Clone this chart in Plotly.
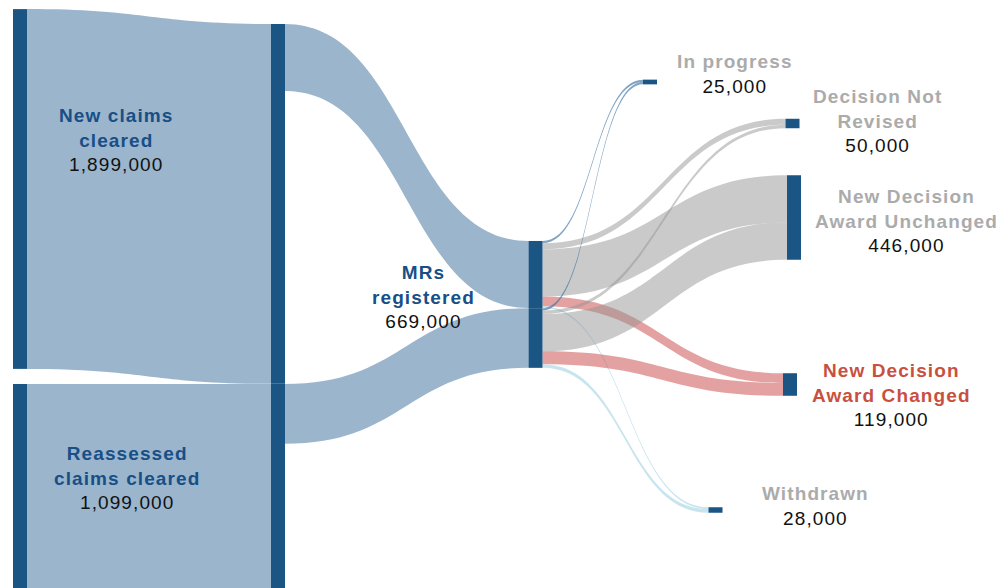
import plotly.graph_objects as go

# ---------------- data ----------------
node_names = [
    "New claims cleared", "Reassessed claims cleared",
    "New claims (MR source)", "Reassessed claims (MR source)",
    "MRs registered (new)", "MRs registered (reassessed)",
    "In progress", "Decision Not Revised", "New Decision Award Unchanged",
    "New Decision Award Changed", "Withdrawn",
]
cleared_new = 1899000
cleared_reassessed = 1099000
mr_new = 354000
mr_reassessed = 315000
outcome_names = ["In progress", "Decision Not Revised", "New Decision Award Unchanged",
                 "New Decision Award Changed", "Withdrawn"]
outcome_from_new = [12000, 32000, 249000, 51000, 10000]
outcome_from_reassessed = [13000, 18000, 197000, 68000, 19000]

label_totals = {
    "New claims cleared": "1,899,000",
    "Reassessed claims cleared": "1,099,000",
    "MRs registered": "669,000",
    "In progress": "25,000",
    "Decision Not Revised": "50,000",
    "New Decision Award Unchanged": "446,000",
    "New Decision Award Changed": "119,000",
    "Withdrawn": "28,000",
}

# ---------------- styles / layout ----------------
W, H = 1001, 588
MT = 8
PH = H - MT

NODE_COLOR = "#1b5583"
BLUE_LINK = "rgba(55,108,155,0.50)"
OUT_COLORS = ["rgba(60,115,165,0.65)", "rgba(150,150,150,0.50)", "rgba(150,150,150,0.50)",
              "rgba(202,68,68,0.50)", "rgba(163,210,227,0.60)"]

# node centres in pixels (page coordinates)
node_px_x = [20, 20, 278, 278, 535.5, 535.5, 650, 792.5, 794, 790, 715.5]
node_px_y = [189, 488.1, 203.9, 488.1, 274.5, 338.0, 82, 123.5, 217.5, 384.5, 510]

node_x = [px / W for px in node_px_x]
node_y = [(py - MT) / PH for py in node_px_y]

src, tgt, val, col = [], [], [], []
# cleared -> MR source columns
src += [0, 1]; tgt += [2, 3]; val += [cleared_new, cleared_reassessed]; col += [BLUE_LINK, BLUE_LINK]
# MR source -> MRs registered
src += [2, 3]; tgt += [4, 5]; val += [mr_new, mr_reassessed]; col += [BLUE_LINK, BLUE_LINK]
# MRs -> outcomes
for i, v in enumerate(outcome_from_new):
    src.append(4); tgt.append(6 + i); val.append(v); col.append(OUT_COLORS[i])
for i, v in enumerate(outcome_from_reassessed):
    src.append(5); tgt.append(6 + i); val.append(v); col.append(OUT_COLORS[i])

fig = go.Figure(go.Sankey(
    arrangement="fixed",
    hoverinfo="none",
    node=dict(
        label=[""] * len(node_names),
        x=node_x, y=node_y,
        pad=12, thickness=14,
        color=NODE_COLOR,
        line=dict(width=0),
        hoverinfo="none",
    ),
    link=dict(source=src, target=tgt, value=val, color=col, hoverinfo="none",
              line=dict(width=0)),
    textfont=dict(size=1, color="rgba(0,0,0,0)"),
))

DARK_BLUE = "#174f86"
GREY = "#ababab"
RED = "#c9503f"
LS = "letter-spacing:1.1px"

labels = [
    (["New claims", "cleared"], "New claims cleared", DARK_BLUE, 116, 140),
    (["Reassessed", "claims cleared"], "Reassessed claims cleared", DARK_BLUE, 127, 478),
    (["MRs", "registered"], "MRs registered", DARK_BLUE, 423, 297),
    (["In progress"], "In progress", GREY, 735, 74.5),
    (["Decision Not", "Revised"], "Decision Not Revised", GREY, 877, 121),
    (["New Decision", "Award Unchanged"], "New Decision Award Unchanged", GREY, 906, 220.5),
    (["New Decision", "Award Changed"], "New Decision Award Changed", RED, 891, 395),
    (["Withdrawn"], "Withdrawn", GREY, 815, 505.5),
]
for lines, key, color, px, py in labels:
    title = "<br>".join(f"<span style='{LS}'><b>{ln}</b></span>" for ln in lines)
    fig.add_annotation(
        x=px / W, y=(H - py) / PH, xref="paper", yref="paper",
        xanchor="center", yanchor="middle", align="center", showarrow=False,
        text=f"{title}<br><span style='color:#111111;{LS}'>{label_totals[key]}</span>",
        font=dict(family="Liberation Sans, Arial, sans-serif", size=19, color=color),
    )

fig.update_layout(
    width=W, height=H,
    margin=dict(l=0, r=0, t=MT, b=0),
    paper_bgcolor="white", plot_bgcolor="white",
    font=dict(family="Liberation Sans, Arial, sans-serif"),
)

fig.write_html("out.html", config={"displayModeBar": False},
               post_script="document.body.style.margin='0';")
